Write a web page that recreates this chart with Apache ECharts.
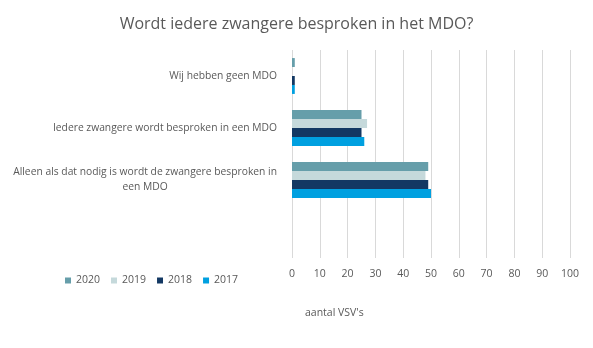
<!DOCTYPE html>
<html>
<head>
<meta charset="utf-8">
<script src="https://cdn.jsdelivr.net/npm/echarts@6/dist/echarts.min.js"></script>
<style>html,body{margin:0;padding:0;background:#fff}#c{width:593px;height:348px}</style>
</head>
<body>
<div id="c"></div>
<script>
const categories = ["Wij hebben geen MDO", "Iedere zwangere wordt besproken in een MDO", "Alleen als dat nodig is wordt de zwangere besproken in\neen MDO", ""];
const seriesNames = ["2020", "2019", "2018", "2017"];
const v2020 = [1, 25, 49, null];
const v2019 = [0, 27, 48, null];
const v2018 = [1, 25, 49, null];
const v2017 = [1, 26, 50, null];
const xTicks = [0, 10, 20, 30, 40, 50, 60, 70, 80, 90, 100];
const colors = ["#669EAA", "#C5D9DB", "#133863", "#00A0E0"];

const FONT = "Open Sans";
const values = [v2020, v2019, v2018, v2017];
const chart = echarts.init(document.getElementById('c'), null, {renderer: 'canvas'});
chart.setOption({
  animation: false,
  title: {
    text: "Wordt iedere zwangere besproken in het MDO?",
    left: 'center', top: 11,
    textStyle: {fontFamily: FONT, fontSize: 16, fontWeight: 'normal', color: '#595959'}
  },
  legend: {
    data: seriesNames,
    left: 60, top: 270,
    icon: 'rect', itemWidth: 6, itemHeight: 6, itemGap: 11,
    textStyle: {fontFamily: FONT, fontSize: 10.5, color: '#595959'}
  },
  grid: {left: 292, right: 23, top: 50, bottom: 90, containLabel: false, outerBoundsMode: 'none'},
  xAxis: {
    type: 'value', min: xTicks[0], max: xTicks[xTicks.length - 1], interval: 10,
    axisLine: {show: false}, axisTick: {show: false},
    splitLine: {lineStyle: {color: '#D9D9D9', width: 1}},
    axisLabel: {fontFamily: FONT, fontSize: 10.5, color: '#595959', margin: 11}
  },
  yAxis: {
    type: 'category', data: categories, inverse: true,
    axisLine: {show: false}, axisTick: {show: false},
    axisLabel: {
      fontFamily: FONT, fontSize: 10.3, color: '#595959', margin: 15, lineHeight: 15,
      formatter: function (v) {
        if (!v) return '';
        return v.split('\n').map(function (s) { return '{a|' + s + '}'; }).join('\n');
      },
      rich: {a: {align: 'center', fontFamily: FONT, fontSize: 10.3, color: '#595959', lineHeight: 15}}
    }
  },
  graphic: [{
    type: 'text', left: 305, top: 308,
    style: {text: "aantal VSV's", fontFamily: FONT, fontSize: 10.5, fill: '#595959'}
  }],
  series: seriesNames.map(function (n, i) {
    return {
      name: n, type: 'bar', data: values[i],
      itemStyle: {color: colors[i]},
      barGap: '0%', barCategoryGap: '31%'
    };
  })
});
</script>
</body>
</html>
